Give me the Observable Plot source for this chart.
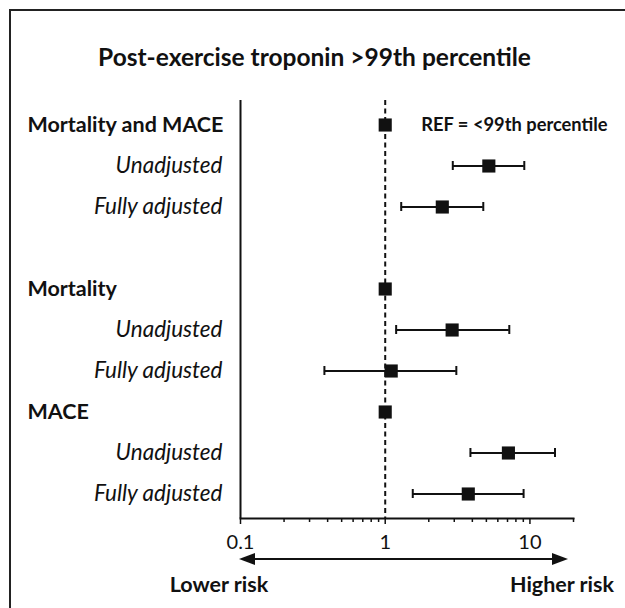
<!DOCTYPE html>
<html><head><meta charset="utf-8">
<script src="https://cdn.jsdelivr.net/npm/d3@7"></script>
<script src="https://cdn.jsdelivr.net/npm/@observablehq/plot@0.6"></script>
<style>
html,body{margin:0;padding:0;background:#fff;overflow:hidden;}
body{width:625px;height:608px;position:relative;font-family:Lato,"Open Sans",sans-serif;color:#111;}
#frame{position:absolute;left:9px;top:9px;width:700px;height:700px;border-left:2px solid #222;border-top:2px solid #222;}
#title{position:absolute;left:0;width:629px;top:45px;text-align:center;font-weight:700;font-size:24.5px;line-height:24.5px;white-space:nowrap;}
#chart{position:absolute;left:0;top:80px;}
</style></head><body>
<div id="frame"></div>
<div id="title">Post-exercise troponin &gt;99th percentile</div>
<div id="chart"></div>
<script>
// Row labels (top to bottom), slot index (slot 3 is an empty spacer row)
const rowLabels = ["Mortality and MACE", "Unadjusted", "Fully adjusted", "Mortality", "Unadjusted", "Fully adjusted", "MACE", "Unadjusted", "Fully adjusted"];
const rowSlot   = [0, 1, 2, 4, 5, 6, 7, 8, 9];
const isHeader  = [true, false, false, true, false, false, true, false, false];
// Hazard ratios and 95% CI (reference rows have HR = 1, no CI)
const estimate  = [1, 5.2, 2.48, 1, 2.9, 1.1, 1, 7.1, 3.75];
const lower     = [null, 2.93, 1.29, null, 1.19, 0.38, null, 3.88, 1.55];
const upper     = [null, 9.14, 4.76, null, 7.2, 3.1, null, 14.9, 9.04];
const majorTicks = [0.1, 1, 10];
const majorTickLabels = ["0.1", "1", "10"];
const minorTicks = [0.2, 0.3, 0.4, 0.5, 0.6, 0.7, 0.8, 0.9, 2, 3, 4, 5, 6, 7, 8, 9, 20];
const refLabel = "REF = <99th percentile";
const lowerLabel = "Lower risk";
const higherLabel = "Higher risk";

const rows = rowLabels.map((label, i) => ({label, slot: rowSlot[i], header: isHeader[i], est: estimate[i], lo: lower[i], hi: upper[i]}));
const ci = rows.filter(d => d.lo != null);
const slots = d3.range(10);
const ink = "#111";

const plot = Plot.plot({
  width: 625, height: 528,
  marginTop: 20, marginBottom: 90, marginLeft: 240, marginRight: 52,
  style: {fontFamily: "Lato, 'Open Sans', sans-serif", fontSize: "18px", color: ink, background: "transparent", overflow: "visible"},
  x: {type: "log", domain: [0.1, 20]},
  y: {type: "band", domain: slots, padding: 0, axis: null},
  marks: [
    Plot.ruleX([0.1], {stroke: ink, strokeWidth: 2}),
    Plot.ruleX([1], {stroke: ink, strokeWidth: 2, strokeDasharray: "5,3.5"}),
    Plot.frame({anchor: "bottom", stroke: ink, strokeWidth: 2}),
    Plot.axisX({ticks: minorTicks, tickSize: 4, tickFormat: () => "", stroke: ink, strokeWidth: 1.5}),
    Plot.axisX({ticks: majorTicks, tickSize: 6, tickPadding: 10, tickFormat: d => majorTickLabels[majorTicks.indexOf(d)], stroke: ink, fill: ink, strokeWidth: 1.5, fontSize: 20}),
    Plot.ruleY(ci, {y: "slot", x1: "lo", x2: "hi", stroke: ink, strokeWidth: 2}),
    Plot.tickX(ci, {x: "lo", y: "slot", insetTop: 16, insetBottom: 16, stroke: ink, strokeWidth: 2}),
    Plot.tickX(ci, {x: "hi", y: "slot", insetTop: 16, insetBottom: 16, stroke: ink, strokeWidth: 2}),
    Plot.dot(rows, {x: "est", y: "slot", symbol: "square", r: 7.4, fill: ink, stroke: null}),
    Plot.text(rows.filter(d => d.header), {y: "slot", text: "label", frameAnchor: "left", dx: -213, textAnchor: "start", fontWeight: 700, fontSize: 21.5, fill: ink}),
    Plot.text(rows.filter(d => !d.header), {y: "slot", text: "label", frameAnchor: "left", dx: -18, textAnchor: "end", fontStyle: "italic", fontSize: 22.5, fill: ink}),
    Plot.text(rows.slice(0, 1), {x: "est", y: "slot", text: () => refLabel, dx: 36, textAnchor: "start", fontWeight: 700, fontSize: 18.3, fill: ink})
  ]
});
document.getElementById("chart").appendChild(plot);

// Bottom risk arrow and labels, positioned through the plot's x scale
const svg = d3.select(plot);
const xs = plot.scale("x");
const x0 = xs.apply(0.1), x1 = xs.range[1];
const yAxis = 528 - 90;
const yArrow = yAxis + 41;
const ax0 = x0 - 1, ax1 = x1 - 5;
const head = 16, half = 6;
svg.append("line").attr("x1", ax0 + head - 2).attr("x2", ax1 - head + 2).attr("y1", yArrow).attr("y2", yArrow).attr("stroke", ink).attr("stroke-width", 2);
svg.append("path").attr("d", `M${ax0},${yArrow}L${ax0 + head},${yArrow - half}L${ax0 + head},${yArrow + half}Z`).attr("fill", ink);
svg.append("path").attr("d", `M${ax1},${yArrow}L${ax1 - head},${yArrow - half}L${ax1 - head},${yArrow + half}Z`).attr("fill", ink);
svg.append("text").attr("x", x0 - 21).attr("y", yAxis + 74).attr("text-anchor", "middle").attr("font-weight", 700).attr("font-size", 21.5).attr("fill", ink).text(lowerLabel);
svg.append("text").attr("x", x1 - 11).attr("y", yAxis + 74).attr("text-anchor", "middle").attr("font-weight", 700).attr("font-size", 21.5).attr("fill", ink).text(higherLabel);
</script>
</body></html>
